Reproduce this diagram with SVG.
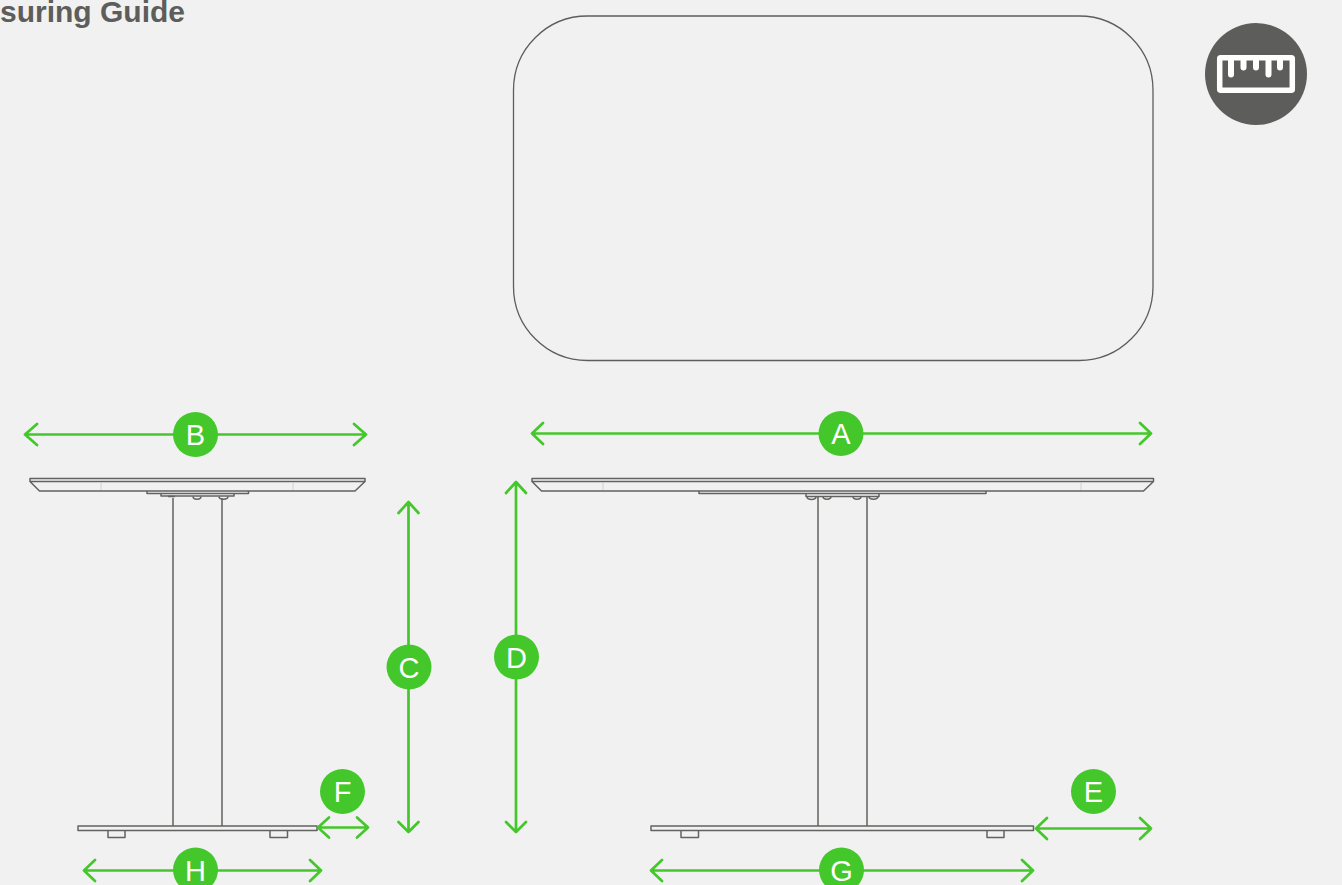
<svg xmlns="http://www.w3.org/2000/svg" width="1342" height="885" viewBox="0 0 1342 885">
<style>
.o{fill:none;stroke:#5d5d5b;stroke-width:1.3}
.t{fill:none;stroke:#626260;stroke-width:1.5;stroke-linejoin:round}
.f{fill:none;stroke:#c9c9c7;stroke-width:.8}
.a{fill:none;stroke:#44c72a;stroke-width:2.7;stroke-linecap:round;stroke-linejoin:round}
.b{fill:#44c72a}
.l{fill:#fff;font-family:"Liberation Sans",Arial,sans-serif;font-size:29px;text-anchor:middle}
</style>
<rect width="1342" height="885" fill="#f1f1f1"/>
<text id="title" x="0" y="22" font-family="'Liberation Sans',Arial,sans-serif" font-weight="700" font-size="30" fill="#5d5d5b">suring Guide</text>
<g id="table-top-view"><rect class="o" x="513.500" y="16" width="639.500" height="344.500" rx="74" ry="74"/></g>
<g id="ruler-icon">
<circle cx="1256" cy="74" r="51" fill="#5d5d5b"/>
<rect x="1219.700" y="57.700" width="72.600" height="32.600" rx="1" fill="none" stroke="#fff" stroke-width="5.500"/>
<path d="M1231 58V74.500M1243.500 58V67.500M1256 58V67.500M1268.500 58V74.500M1280 58V67.500" fill="none" stroke="#fff" stroke-width="6" stroke-linecap="round"/>
</g>
<g id="side-table">
<path class="t" d="M30 478.500H365V481.500L355 491H39.500L30 481.500ZM30 481.500H365"/>
<path class="f" d="M101 482V490M293 482V490"/>
<path class="t" d="M147 491V493.500H248.500V491M161 493.500V496H234V493.500"/>
<path class="t" d="M168 496.500H175M193 496.500C193 500 201 500 201 496.500M219 496.500C219 500 228 500 228 496.500"/>
<path class="t" d="M173 498V826M222 498V826"/>
<rect class="t" x="78" y="826" width="239" height="4.500"/>
<path class="t" d="M108 831V837.500H125V831M270 831V837.500H287.500V831"/>
</g>
<g id="front-table">
<path class="t" d="M532 478.500H1153.500V481.500L1143.500 491H541.500L532 481.500ZM532 481.500H1153.500"/>
<path class="f" d="M603 482V490M1081 482V490"/>
<path class="t" d="M699 491V493.500H986V491M806 493.500V496.500H879V493.500"/>
<path class="t" d="M807 496.500C807 500.500 816 500.500 816 496.500M823 496.500C823 500 831 500 831 496.500M853 496.500C853 500 861 500 861 496.500M869 496.500C869 500 878 500 878 496.500"/>
<path class="t" d="M818 497V826M867 497V826"/>
<rect class="t" x="651" y="826" width="382.500" height="4.500"/>
<path class="t" d="M681 831V837.500H698.500V831M987 831V837.500H1004V831"/>
</g>
<g id="connectors">
<path class="a" d="M25 434.500H366M37 424L25 434.500L37 445M354 424L366 434.500L354 445"/>
<path class="a" d="M532 433.500H1151M543 423L532 433.500L543 444M1140 423L1151 433.500L1140 444"/>
<path class="a" d="M408.500 502V832M398.500 513L408.500 502L418.500 513M398.500 822L408.500 832L418.500 822"/>
<path class="a" d="M516 482V832M506 493L516 482L526 493M506 822L516 832L526 822"/>
<path class="a" d="M1036 828.500H1151M1047 818L1036 828.500L1047 839M1140 818L1151 828.500L1140 839"/>
<path class="a" d="M318 827.500H368M329 817.500L318 827.500L329 837.500M357 817.500L368 827.500L357 837.500"/>
<path class="a" d="M84 870.500H321M95 860L84 870.500L95 881M310 860L321 870.500L310 881"/>
<path class="a" d="M651 870.500H1033M662 860L651 870.500L662 881M1022 860L1033 870.500L1022 881"/>
</g>
<g id="label-a"><circle class="b" cx="841" cy="433.500" r="22.500"/><text class="l" x="841" y="444">A</text></g>
<g id="label-b"><circle class="b" cx="195.500" cy="434.500" r="22.500"/><text class="l" x="195.500" y="445">B</text></g>
<g id="label-c"><circle class="b" cx="409" cy="667" r="22.500"/><text class="l" x="409" y="678">C</text></g>
<g id="label-d"><circle class="b" cx="516.500" cy="657" r="22.500"/><text class="l" x="516.500" y="668">D</text></g>
<g id="label-e"><circle class="b" cx="1093.500" cy="791.500" r="22.500"/><text class="l" x="1093.500" y="802">E</text></g>
<g id="label-f"><circle class="b" cx="342.500" cy="791.500" r="22.500"/><text class="l" x="342.500" y="802">F</text></g>
<g id="label-g"><circle class="b" cx="841.500" cy="870" r="22.500"/><text class="l" x="841.500" y="881">G</text></g>
<g id="label-h"><circle class="b" cx="195.500" cy="870" r="22.500"/><text class="l" x="195.500" y="881">H</text></g>
</svg>
